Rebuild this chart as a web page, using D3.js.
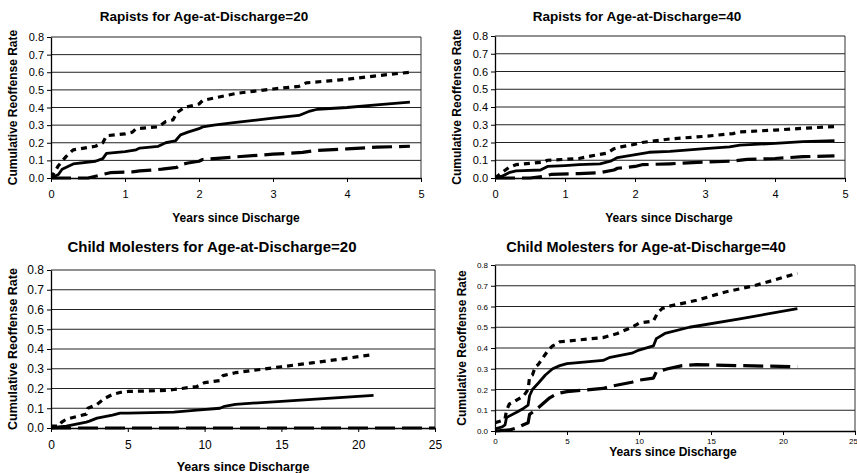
<!DOCTYPE html>
<html>
<head>
<meta charset="utf-8">
<script src="https://cdn.jsdelivr.net/npm/d3@7"></script>
<style>
html,body{margin:0;padding:0;background:#fff;}
svg{display:block;font-family:"Liberation Sans",Arial,sans-serif;}
</style>
</head>
<body>
<svg id="chart" width="857" height="473"></svg>
<script>
// ---------- DATA ----------
const yTicks = [0, 0.1, 0.2, 0.3, 0.4, 0.5, 0.6, 0.7, 0.8];
const xTicksShort = [0, 1, 2, 3, 4, 5];
const xTicksLong = [0, 5, 10, 15, 20, 25];

const titles = [
  "Rapists for Age-at-Discharge=20",
  "Rapists for Age-at-Discharge=40",
  "Child Molesters for Age-at-Discharge=20",
  "Child Molesters for Age-at-Discharge=40"
];
const xTitle = "Years since Discharge";
const yTitle = "Cumulative Reoffense Rate";

// Panel 1: Rapists, age 20  [years, rate]
const r20Upper = [[0,0],[0.1,0.07],[0.2,0.12],[0.3,0.16],[0.6,0.18],[0.7,0.2],[0.75,0.24],[1.0,0.25],[1.1,0.26],[1.15,0.28],[1.45,0.29],[1.55,0.32],[1.65,0.33],[1.7,0.37],[1.8,0.4],[2.0,0.42],[2.05,0.44],[2.5,0.48],[3.0,0.505],[3.35,0.52],[3.45,0.54],[4.0,0.56],[4.4,0.58],[4.85,0.6]];
const r20Mid = [[0,0],[0.1,0.02],[0.15,0.05],[0.2,0.06],[0.3,0.08],[0.6,0.095],[0.7,0.11],[0.75,0.14],[1.0,0.15],[1.15,0.16],[1.2,0.17],[1.45,0.18],[1.55,0.2],[1.68,0.21],[1.75,0.245],[1.85,0.26],[2.0,0.28],[2.05,0.29],[2.2,0.3],[2.5,0.315],[3.0,0.34],[3.35,0.355],[3.5,0.38],[3.6,0.39],[4.0,0.4],[4.4,0.415],[4.85,0.43]];
const r20Lower = [[0,0],[0.5,0],[0.7,0.02],[0.8,0.03],[1.1,0.035],[1.2,0.04],[1.5,0.05],[1.7,0.06],[1.75,0.075],[1.85,0.085],[2.0,0.095],[2.05,0.105],[2.5,0.12],[3.0,0.135],[3.4,0.145],[3.55,0.155],[4.0,0.165],[4.4,0.175],[4.85,0.18]];

// Panel 2: Rapists, age 40
const r40Upper = [[0,0],[0.1,0.03],[0.2,0.06],[0.3,0.075],[0.7,0.09],[0.75,0.1],[1.0,0.105],[1.2,0.11],[1.45,0.13],[1.6,0.14],[1.7,0.165],[1.8,0.175],[2.0,0.19],[2.1,0.2],[2.5,0.22],[3.0,0.235],[3.4,0.25],[3.5,0.26],[4.0,0.27],[4.4,0.28],[4.85,0.29]];
const r40Mid = [[0,0],[0.1,0.01],[0.2,0.03],[0.3,0.04],[0.65,0.045],[0.75,0.065],[1.0,0.07],[1.2,0.075],[1.5,0.08],[1.65,0.095],[1.75,0.115],[1.9,0.125],[2.05,0.135],[2.2,0.145],[2.5,0.15],[3.0,0.165],[3.35,0.175],[3.5,0.185],[4.0,0.195],[4.4,0.205],[4.85,0.21]];
const r40Lower = [[0,0],[0.5,0],[0.7,0.01],[0.8,0.02],[1.2,0.025],[1.5,0.03],[1.7,0.045],[1.75,0.055],[2.0,0.065],[2.1,0.075],[2.5,0.08],[3.0,0.09],[3.4,0.095],[3.6,0.105],[4.0,0.11],[4.4,0.12],[4.85,0.125]];

// Panel 3: Child molesters, age 20
const c20Upper = [[0,0.01],[0.5,0.01],[0.7,0.03],[1.0,0.045],[2.3,0.07],[2.4,0.1],[3.0,0.12],[3.5,0.15],[4.0,0.17],[4.5,0.18],[5,0.185],[7.5,0.19],[8,0.195],[9.5,0.21],[10,0.23],[11,0.24],[11.2,0.265],[12,0.28],[13,0.29],[15,0.31],[17,0.33],[19,0.35],[20.8,0.37]];
const c20Mid = [[0,0],[0.5,0.005],[1,0.01],[2.3,0.03],[2.5,0.035],[3,0.05],[4,0.065],[4.5,0.075],[5,0.075],[8,0.08],[9.5,0.09],[11,0.1],[11.3,0.11],[12,0.12],[15,0.135],[18,0.15],[21,0.165]];
const c20Lower = [[0,0],[25,0]];

// Panel 4: Child molesters, age 40
const c40Upper = [[0,0.04],[0.5,0.05],[0.7,0.06],[0.8,0.1],[1.0,0.13],[1.3,0.14],[2.0,0.17],[2.3,0.2],[2.4,0.26],[2.6,0.27],[2.8,0.31],[3.0,0.32],[3.3,0.35],[3.5,0.37],[3.7,0.39],[4.0,0.41],[4.3,0.42],[4.5,0.43],[7.5,0.45],[8.5,0.47],[9.5,0.5],[10,0.52],[11,0.53],[11.3,0.57],[11.6,0.59],[12,0.6],[14,0.63],[16,0.67],[18,0.7],[21,0.76]];
const c40Mid = [[0,0.01],[0.5,0.02],[0.7,0.03],[0.8,0.065],[1.5,0.09],[2.0,0.11],[2.3,0.125],[2.4,0.17],[2.6,0.2],[3.0,0.23],[3.5,0.27],[4.0,0.3],[4.5,0.315],[5,0.325],[7.5,0.34],[8,0.355],[9.5,0.375],[10,0.39],[11,0.41],[11.2,0.445],[11.8,0.47],[13.5,0.5],[17,0.54],[21,0.59]];
const c40Lower = [[0,0],[1,0.005],[1.5,0.015],[2.3,0.04],[2.4,0.08],[2.8,0.1],[3.3,0.13],[3.8,0.16],[4.3,0.18],[5,0.19],[7.5,0.205],[8,0.215],[9.5,0.235],[10,0.245],[11,0.255],[11.2,0.285],[12,0.3],[13,0.315],[14,0.32],[17,0.315],[21,0.31]];

// ---------- LAYOUT ----------
const panels = [
  {title: titles[0], L:51, R:421, T:37, B:178, xMax:5, xTicks:xTicksShort, series:[r20Upper,r20Mid,r20Lower],
   titleX:204, titleY:21, titleSize:13.5, tickSize:11, xPad:8, ytX:13, xtY:222, axisTitleSize:12, xtX:236},
  {title: titles[1], L:495, R:845, T:36, B:178, xMax:5, xTicks:xTicksShort, series:[r40Upper,r40Mid,r40Lower],
   titleX:637, titleY:21, titleSize:13.5, tickSize:11, xPad:8, ytX:457, xtY:222, axisTitleSize:12, xtX:669},
  {title: titles[2], L:51, R:435, T:270, B:428, xMax:25, xTicks:xTicksLong, series:[c20Upper,c20Mid,c20Lower],
   titleX:212, titleY:252, titleSize:15, tickSize:12, xPad:8, ytX:13, xtY:471, axisTitleSize:12.5, xtX:243},
  {title: titles[3], L:495, R:855, T:265, B:431, xMax:25, xTicks:xTicksLong, series:[c40Upper,c40Mid,c40Lower],
   titleX:646, titleY:252, titleSize:14.5, tickSize:8, xPad:3, ytX:462, xtY:456, axisTitleSize:12, xtX:673}
];

const styles = [
  {dash:"6,5", width:3.2},
  {dash:null, width:2.8},
  {dash:"20,7", width:3.2}
];

const svg = d3.select("#chart");

panels.forEach(p => {
  const x = d3.scaleLinear().domain([0, p.xMax]).range([p.L, p.R]);
  const y = d3.scaleLinear().domain([0, 0.8]).range([p.B, p.T]);
  const g = svg.append("g");

  // gridlines
  g.append("g").selectAll("line").data(yTicks.slice(1)).join("line")
    .attr("x1", p.L).attr("x2", p.R)
    .attr("y1", d => y(d)).attr("y2", d => y(d))
    .attr("stroke", "#222").attr("stroke-width", 1);
  // right border
  g.append("line").attr("x1", p.R).attr("x2", p.R).attr("y1", p.T).attr("y2", p.B)
    .attr("stroke", "#333").attr("stroke-width", 1);

  // series
  const line = d3.line().x(d => x(d[0])).y(d => y(d[1]));
  const clipId = "clip" + p.L + "_" + p.T;
  svg.append("clipPath").attr("id", clipId).append("rect")
    .attr("x", p.L).attr("y", p.T - 5).attr("width", p.R - p.L + 5).attr("height", p.B - p.T + 8);
  p.series.forEach((s, i) => {
    g.append("path").datum(s)
      .attr("d", line)
      .attr("fill", "none")
      .attr("stroke", "#000")
      .attr("stroke-width", styles[i].width)
      .attr("stroke-dasharray", styles[i].dash)
      .attr("stroke-linejoin", "round")
      .attr("clip-path", "url(#" + clipId + ")");
  });

  // axes
  const xAxis = d3.axisBottom(x).tickValues(p.xTicks).tickFormat(d3.format("d")).tickSizeOuter(0).tickSizeInner(4).tickPadding(p.xPad);
  const gx = g.append("g").attr("transform", `translate(0,${p.B})`).call(xAxis);
  const yAxis = d3.axisLeft(y).tickValues(yTicks).tickFormat(d3.format(".1f")).tickSizeOuter(0).tickSizeInner(4).tickPadding(3);
  const gy = g.append("g").attr("transform", `translate(${p.L},0)`).call(yAxis);
  [gx, gy].forEach(a => {
    a.selectAll("path.domain").attr("stroke", "#000").attr("stroke-width", 1.3);
    a.selectAll(".tick line").attr("stroke", "#000");
    a.selectAll(".tick text").attr("font-size", p.tickSize).attr("fill", "#000")
      .attr("font-family", "'Liberation Sans', Arial, sans-serif");
  });
  // keep the last x label inside the window
  gx.selectAll(".tick text").filter(d => x(d) + 6 > 857).attr("text-anchor", "end").attr("dx", "0.3em");

  // titles
  svg.append("text").attr("x", p.titleX).attr("y", p.titleY)
    .attr("text-anchor", "middle").attr("font-weight", "bold").attr("font-size", p.titleSize)
    .text(p.title);
  svg.append("text").attr("x", p.xtX).attr("y", p.xtY)
    .attr("text-anchor", "middle").attr("font-weight", "bold").attr("font-size", p.axisTitleSize)
    .text(xTitle);
  svg.append("text")
    .attr("transform", `translate(${p.ytX},${(p.T + p.B) / 2}) rotate(-90)`)
    .attr("text-anchor", "middle").attr("dy", "0.35em").attr("font-weight", "bold").attr("font-size", p.axisTitleSize)
    .text(yTitle);
});
</script>
</body>
</html>
